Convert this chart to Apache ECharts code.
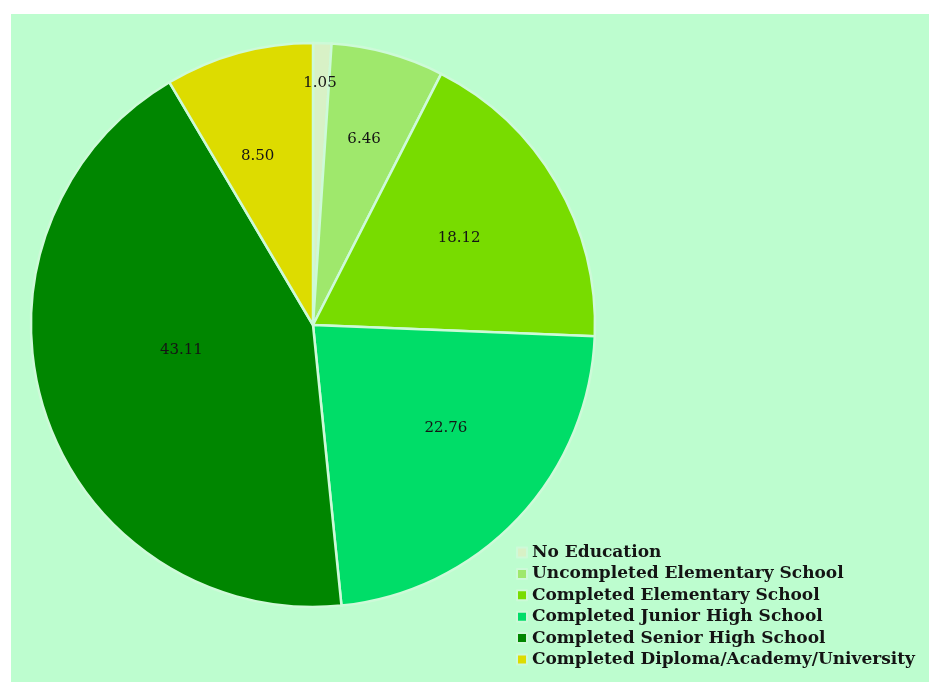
<!DOCTYPE html>
<html>
<head>
<meta charset="utf-8">
<script src="https://cdn.jsdelivr.net/npm/echarts@6/dist/echarts.min.js"></script>
<style>
  html, body { margin: 0; padding: 0; background: #ffffff; }
  #panel { position: absolute; left: 11px; top: 14px; right: 0; bottom: 0; background: #bdfdcf; }
  #chart { position: absolute; left: 0; top: 0; width: 929px; height: 682px; }
</style>
</head>
<body>
<div id="panel"></div>
<div id="chart"></div>
<script>
// Education level shares (%)
const categories = [
  'No Education',
  'Uncompleted Elementary School',
  'Completed Elementary School',
  'Completed Junior High School',
  'Completed Senior High School',
  'Completed Diploma/Academy/University'
];
const shares = [1.05, 6.46, 18.12, 22.76, 43.11, 8.50];
const sliceColors = ['#d8f1c6', '#9fe86c', '#78dc00', '#00dd68', '#008600', '#dddc00'];
// how far out along each slice its value label sits (fraction of radius)
const labelReach = [0.84, 0.68, 0.60, 0.60, 0.47, 0.65];
// small sideways nudges for a few labels, in pixels
const labelNudge = [[-1, 0], [-1, 3], [-3, 0], [7, -15], [-3, -17], [-6, 12]];

const pieCenter = [313, 325];
const pieRadius = 282;

const chart = echarts.init(document.getElementById('chart'), null, { renderer: 'canvas' });

chart.setOption({
  backgroundColor: 'transparent',
  animation: false,
  legend: {
    orient: 'vertical',
    left: 511,
    top: 539,
    itemWidth: 10,
    itemHeight: 10,
    itemGap: 4.4,
    icon: 'rect',
    selectedMode: false,
    textStyle: {
      fontFamily: 'DejaVu Serif',
      fontWeight: 'bold',
      fontSize: 17,
      lineHeight: 17,
      color: '#141414',
      padding: [0, 0, 0, 0]
    },
    data: categories
  },
  series: [{
    type: 'pie',
    center: pieCenter,
    radius: pieRadius,
    startAngle: 90,
    clockwise: true,
    avoidLabelOverlap: false,
    itemStyle: { borderColor: '#cdfad8', borderWidth: 2.5 },
    label: {
      show: true,
      position: 'inside',
      formatter: p => p.value.toFixed(2),
      fontFamily: 'DejaVu Serif',
      fontSize: 15,
      color: '#141414'
    },
    labelLine: { show: false },
    emphasis: { disabled: true },
    labelLayout: function (params) {
      const r = params.labelRect;
      const cx = r.x + r.width / 2;
      const cy = r.y + r.height / 2;
      const k = labelReach[params.dataIndex] / 0.5 - 1;
      const n = labelNudge[params.dataIndex];
      return { dx: (cx - pieCenter[0]) * k + n[0], dy: (cy - pieCenter[1]) * k + n[1] };
    },
    data: categories.map((name, i) => ({
      name: name,
      value: shares[i],
      itemStyle: { color: sliceColors[i] }
    }))
  }]
});
</script>
</body>
</html>
